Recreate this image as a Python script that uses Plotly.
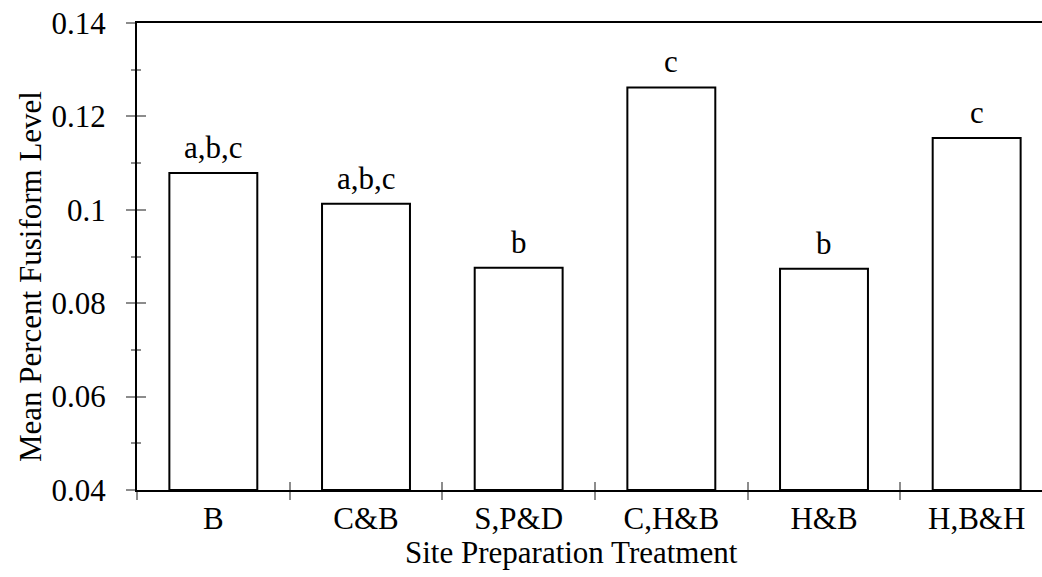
import plotly.graph_objects as go

categories = ["B", "C&B", "S,P&D", "C,H&B", "H&B", "H,B&H"]
values = [0.1079, 0.1013, 0.0876, 0.1262, 0.0874, 0.1154]
letters = ["a,b,c", "a,b,c", "b", "c", "b", "c"]
y_range = [0.04, 0.14]
y_tick_vals = [0.04, 0.06, 0.08, 0.1, 0.12, 0.14]
y_tick_text = ["0.04", "0.06", "0.08", "0.1", "0.12", "0.14"]

FONT = "Liberation Serif"
FS = 31
GRAY = "#8c8c8c"

fig = go.Figure()
fig.add_trace(go.Bar(
    x=categories, y=[v - y_range[0] for v in values], base=y_range[0],
    width=0.576,
    marker=dict(color="white", line=dict(color="black", width=2)),
    showlegend=False, hoverinfo="skip",
))
# placeholder trace hosting the overlay axes (inside halves of the crossing ticks)
fig.add_trace(go.Scatter(x=[None], y=[None], xaxis="x2", yaxis="y2",
                         mode="markers", showlegend=False, hoverinfo="skip"))

for c, v, t in zip(categories, values, letters):
    fig.add_annotation(x=c, y=v, text=t, showarrow=False, yanchor="bottom",
                       yshift=6, font=dict(family=FONT, size=FS, color="black"))

n = len(categories)
x_range = [-0.5, n - 0.5 - 0.072]

fig.add_annotation(text="Site Preparation Treatment", xref="paper", yref="paper",
                   x=0.4796, y=-0.133, xanchor="center", yanchor="middle",
                   showarrow=False, font=dict(family=FONT, size=FS, color="black"))
fig.add_annotation(text="Mean Percent Fusiform Level", xref="paper", yref="paper",
                   x=-0.1182, y=0.456, xanchor="center", yanchor="middle", textangle=-90,
                   showarrow=False, font=dict(family=FONT, size=FS, color="black"))

fig.update_layout(
    width=1042, height=577, autosize=False,
    margin=dict(l=137, r=0, t=23, b=87, pad=0),
    paper_bgcolor="white", plot_bgcolor="white",
    font=dict(family=FONT, size=FS, color="black"),
    xaxis=dict(
        type="category", range=x_range, tickson="boundaries",
        showline=True, linecolor="black", linewidth=2, mirror=True,
        ticks="outside", ticklen=8, tickwidth=2, tickcolor=GRAY,
        showgrid=False, zeroline=False, ticklabelstandoff=0,
        tickfont=dict(family=FONT, size=FS, color="black"),
    ),
    yaxis=dict(
        range=y_range, tickvals=y_tick_vals, ticktext=y_tick_text,
        showline=True, linecolor="black", linewidth=2,
        ticks="outside", ticklen=9, tickwidth=2, tickcolor=GRAY,
        minor=dict(ticks="outside", ticklen=4, tickwidth=2, tickcolor=GRAY, dtick=0.01),
        showgrid=False, zeroline=False, ticklabelstandoff=14,
        tickfont=dict(family=FONT, size=FS, color="black"),
    ),
    xaxis2=dict(
        overlaying="x", anchor="y2", range=x_range,
        tickvals=[i + 0.5 for i in range(n - 1)],
        ticks="inside", ticklen=8, tickwidth=2, tickcolor=GRAY,
        showticklabels=False, showgrid=False, zeroline=False, showline=False,
    ),
    yaxis2=dict(
        overlaying="y", anchor="x2", side="left", range=y_range, tickvals=y_tick_vals,
        ticks="inside", ticklen=9, tickwidth=2, tickcolor=GRAY,
        minor=dict(ticks="inside", ticklen=4, tickwidth=2, tickcolor=GRAY, dtick=0.01),
        showticklabels=False, showgrid=False, zeroline=False, showline=False,
    ),
    bargap=0.424,
)

fig.write_html("out.html")
